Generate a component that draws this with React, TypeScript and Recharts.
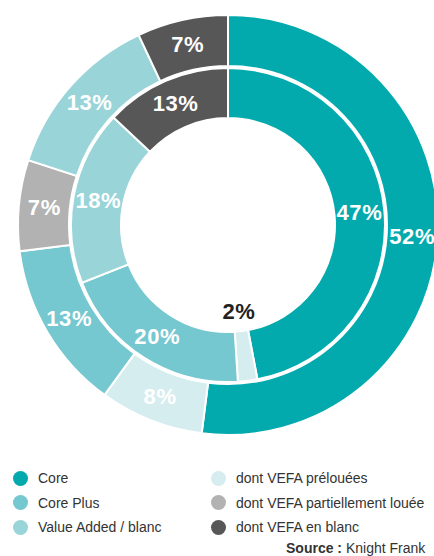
import { PieChart, Pie, Cell, Legend } from "recharts";

const legendNames = [
  "Core",
  "dont VEFA prélouées",
  "Core Plus",
  "dont VEFA partiellement louée",
  "Value Added / blanc",
  "dont VEFA en blanc",
];
const legendColors = ["#02aaad", "#d5edef", "#75c7d0", "#b2b2b2", "#98d4d8", "#575757"];

const outerNames = [
  "Core",
  "dont VEFA prélouées",
  "Core Plus",
  "dont VEFA partiellement louée",
  "Value Added / blanc",
  "dont VEFA en blanc",
];
const outerValues = [52, 8, 13, 7, 13, 7];

const innerNames = [
  "Core",
  "dont VEFA prélouées",
  "Core Plus",
  "Value Added / blanc",
  "dont VEFA en blanc",
];
const innerValues = [47, 2, 20, 18, 13];

const colorOf: Record<string, string> = {};
legendNames.forEach((n, i) => (colorOf[n] = legendColors[i]));

const outerData = outerNames.map((name, i) => ({ name, value: outerValues[i] }));
const innerData = innerNames.map((name, i) => ({ name, value: innerValues[i] }));

const FONT = "'Liberation Sans', Arial, Helvetica, sans-serif";
const RADIAN = Math.PI / 180;

const renderLabel = (props: any) => {
  const { cx, cy, midAngle, innerRadius, outerRadius, value } = props;
  const small = value < 5;
  const r = small ? innerRadius - 20 : (innerRadius + outerRadius) / 2;
  const x = cx + r * Math.cos(-midAngle * RADIAN);
  const y = cy + r * Math.sin(-midAngle * RADIAN);
  return (
    <text
      x={x}
      y={y}
      textAnchor="middle"
      dominantBaseline="central"
      fill={small ? "#222" : "#fff"}
      fontSize={22}
      fontWeight="bold"
      letterSpacing={0.6}
      fontFamily={FONT}
    >
      {value}%
    </text>
  );
};

function LegendBox() {
  const cols = [
    [0, 2, 4],
    [1, 3, 5],
  ];
  return (
    <div style={{ position: "relative", width: 434, height: 90, fontFamily: FONT }}>
      {cols.map((col, ci) =>
        col.map((idx, ri) => (
          <div
            key={idx}
            style={{
              position: "absolute",
              left: ci === 0 ? 13 : 211,
              top: ri * 24.5,
              height: 16,
              lineHeight: "16px",
              display: "flex",
              alignItems: "center",
              whiteSpace: "nowrap",
              fontSize: 14,
              color: "#333",
            }}
          >
            <span
              style={{
                display: "inline-block",
                width: 15,
                height: 15,
                borderRadius: "50%",
                background: legendColors[idx],
                marginRight: 10,
              }}
            />
            {legendNames[idx]}
          </div>
        ))
      )}
      <div
        style={{
          position: "absolute",
          left: 286,
          top: 71,
          lineHeight: "14px",
          whiteSpace: "nowrap",
          fontSize: 14,
          color: "#333",
        }}
      >
        <b>Source :</b> Knight Frank
      </div>
    </div>
  );
}

export default function App() {
  return (
    <div
      style={{
        position: "absolute",
        left: 0,
        top: 0,
        width: 434,
        height: 556,
        overflow: "hidden",
        background: "#fff",
      }}
    >
      <PieChart width={434} height={556} margin={{ top: 0, right: 0, bottom: 0, left: 0 }}>
        <Pie
          data={outerData}
          dataKey="value"
          nameKey="name"
          cx={228}
          cy={225}
          innerRadius={159}
          outerRadius={210}
          startAngle={90}
          endAngle={-270}
          stroke="#fff"
          strokeWidth={2}
          label={renderLabel}
          labelLine={false}
          isAnimationActive={false}
        >
          {outerData.map((d) => (
            <Cell key={d.name} fill={colorOf[d.name]} />
          ))}
        </Pie>
        <Pie
          data={innerData}
          dataKey="value"
          nameKey="name"
          cx={228}
          cy={225}
          innerRadius={107}
          outerRadius={157}
          startAngle={90}
          endAngle={-270}
          stroke="#fff"
          strokeWidth={2}
          label={renderLabel}
          labelLine={false}
          isAnimationActive={false}
        >
          {innerData.map((d) => (
            <Cell key={d.name} fill={colorOf[d.name]} />
          ))}
        </Pie>
        <Legend
          verticalAlign="bottom"
          wrapperStyle={{ position: "absolute", left: 0, top: 470, width: 434 }}
          content={() => <LegendBox />}
        />
      </PieChart>
    </div>
  );
}
